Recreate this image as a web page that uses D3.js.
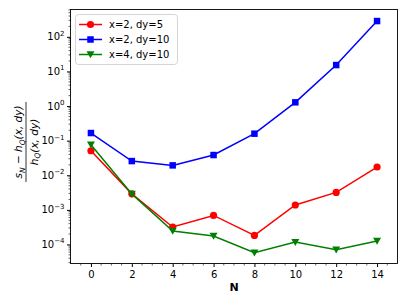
<!DOCTYPE html>
<html><head><meta charset="utf-8">
<script src="https://cdn.jsdelivr.net/npm/d3@7"></script>
<style>body{margin:0;background:#fff}svg{display:block}text{font-family:"DejaVu Sans",sans-serif}</style>
</head><body><svg id="c" width="407" height="305"></svg>
<script>
const N = [0, 2, 4, 6, 8, 10, 12, 14];
const seriesNames = ["x=2, dy=5", "x=2, dy=10", "x=4, dy=10"];
const red   = [0.051, 0.0029, 3.2e-4, 6.9e-4, 1.83e-4, 1.38e-3, 3.2e-3, 0.0173];
const blue  = [0.166, 0.0257, 0.0193, 0.0384, 0.159, 1.28, 15.3, 286];
const green = [0.0766, 0.0029, 2.44e-4, 1.75e-4, 5.8e-5, 1.17e-4, 7.1e-5, 1.26e-4];
const xTicks = [0, 2, 4, 6, 8, 10, 12, 14];
const yTickExps = [-4, -3, -2, -1, 0, 1, 2];

const svg = d3.select("#c");
const L = 70.5, R = 397.5, T = 9.5, B = 263.5;
const x = d3.scaleLinear().domain([-1, 15]).range([L, R]);
const y = d3.scaleLog().domain([Math.pow(10, -4.55), Math.pow(10, 2.79)]).range([B, T]);

// axes
const xAxis = d3.axisBottom(x).tickValues(xTicks).tickSize(3.5).tickPadding(3.5).tickFormat(d3.format("d"));
const gx = svg.append("g").attr("transform", `translate(0,${B})`).call(xAxis);
gx.select(".domain").remove();
gx.selectAll("text").attr("font-size", 10).attr("fill", "#000");
const xMinor = d3.range(-0.5, 15, 0.5).filter(v => v % 2 !== 0);
gx.selectAll(".mn").data(xMinor).enter().append("line").attr("class", "mn")
  .attr("x1", d => x(d)).attr("x2", d => x(d)).attr("y1", 0).attr("y2", 2).attr("stroke", "#000").attr("stroke-width", 0.6);

const gy = svg.append("g").attr("transform", `translate(${L},0)`);
const yMajor = yTickExps.map(e => Math.pow(10, e));
gy.call(d3.axisLeft(y).tickValues(yMajor).tickSize(3.5).tickFormat(""));
gy.select(".domain").remove();
const yMinor = [];
for (let e = -5; e <= 2; e++) for (let m = 2; m <= 9; m++) {
  const v = m * Math.pow(10, e);
  if (v >= y.domain()[0] && v <= y.domain()[1]) yMinor.push(v);
}
gy.selectAll(".mn").data(yMinor).enter().append("line").attr("class", "mn")
  .attr("x1", 0).attr("x2", -2).attr("y1", d => y(d)).attr("y2", d => y(d)).attr("stroke", "#000").attr("stroke-width", 0.6);
const yl = gy.selectAll(".yl").data(yTickExps).enter().append("text").attr("class", "yl")
  .attr("x", -6).attr("y", d => y(Math.pow(10, d)) + 3.5).attr("text-anchor", "end")
  .attr("font-size", 10).attr("fill", "#000").attr("font-family", "DejaVu Sans");
yl.append("tspan").text("10");
yl.append("tspan").attr("dy", -4.5).attr("font-size", 7).text(d => String(d).replace("-", "\u2212"));

svg.append("rect").attr("x", L).attr("y", T).attr("width", R - L).attr("height", B - T)
  .attr("fill", "none").attr("stroke", "#000").attr("stroke-width", 0.9);

// series
const colors = ["#ff0000", "#0000ff", "#008000"];
const data = [red, blue, green];
const line = d3.line().x((d, i) => x(N[i])).y(d => y(d));
const sq = 6.5;
function marker(g, k) {
  if (k === 0) g.append("circle").attr("r", 3.6).attr("fill", colors[k]);
  else if (k === 1) g.append("rect").attr("x", -sq/2).attr("y", -sq/2).attr("width", sq).attr("height", sq).attr("fill", colors[k]);
  else g.append("path").attr("d", "M-4,-3.2L4,-3.2L0,3.8Z").attr("fill", colors[k]);
}
data.forEach((s, k) => {
  svg.append("path").datum(s).attr("d", line).attr("fill", "none").attr("stroke", colors[k]).attr("stroke-width", 1.5);
  s.forEach((v, i) => {
    const g = svg.append("g").attr("transform", `translate(${x(N[i])},${y(v)})`);
    marker(g, k);
  });
});

// legend
const lg = svg.append("g");
lg.append("rect").attr("x", 75.5).attr("y", 14.5).attr("width", 102).attr("height", 50).attr("rx", 3)
  .attr("fill", "#fff").attr("fill-opacity", 0.8).attr("stroke", "#d0d0d0").attr("stroke-width", 0.9);
seriesNames.forEach((nm, k) => {
  const yy = 24.5 + k * 15;
  lg.append("line").attr("x1", 79).attr("x2", 102).attr("y1", yy).attr("y2", yy).attr("stroke", colors[k]).attr("stroke-width", 1.5);
  const g = lg.append("g").attr("transform", `translate(90.5,${yy})`);
  marker(g, k);
  lg.append("text").attr("x", 109).attr("y", yy + 3.6).attr("font-size", 10).text(nm);
});

// x label
svg.append("text").attr("x", (L + R) / 2).attr("y", 291).attr("text-anchor", "middle")
  .attr("font-family", "DejaVu Serif").attr("font-weight", "bold").attr("font-size", 11).text("N");

// y label fraction
const fl = svg.append("g").attr("transform", "translate(26,142) rotate(-90)");
const num = fl.append("text").attr("x", 0).attr("y", -4).attr("text-anchor", "middle").attr("font-size", 10.5).attr("font-style", "italic");
num.append("tspan").text("s");
num.append("tspan").attr("dy", 2.5).attr("font-size", 7.5).text("N");
num.append("tspan").attr("dy", -2.5).attr("font-style", "normal").text(" \u2212 ");
num.append("tspan").text("h");
num.append("tspan").attr("dy", 2.5).attr("font-size", 7.5).text("Q");
num.append("tspan").attr("dy", -2.5).text("(x, dy)");
fl.append("line").attr("x1", -40).attr("x2", 40).attr("y1", 0).attr("y2", 0).attr("stroke", "#000").attr("stroke-width", 0.8);
const den = fl.append("text").attr("x", 0).attr("y", 11.5).attr("text-anchor", "middle").attr("font-size", 10.5).attr("font-style", "italic");
den.append("tspan").text("h");
den.append("tspan").attr("dy", 2.5).attr("font-size", 7.5).text("Q");
den.append("tspan").attr("dy", -2.5).text("(x, dy)");
</script></body></html>
